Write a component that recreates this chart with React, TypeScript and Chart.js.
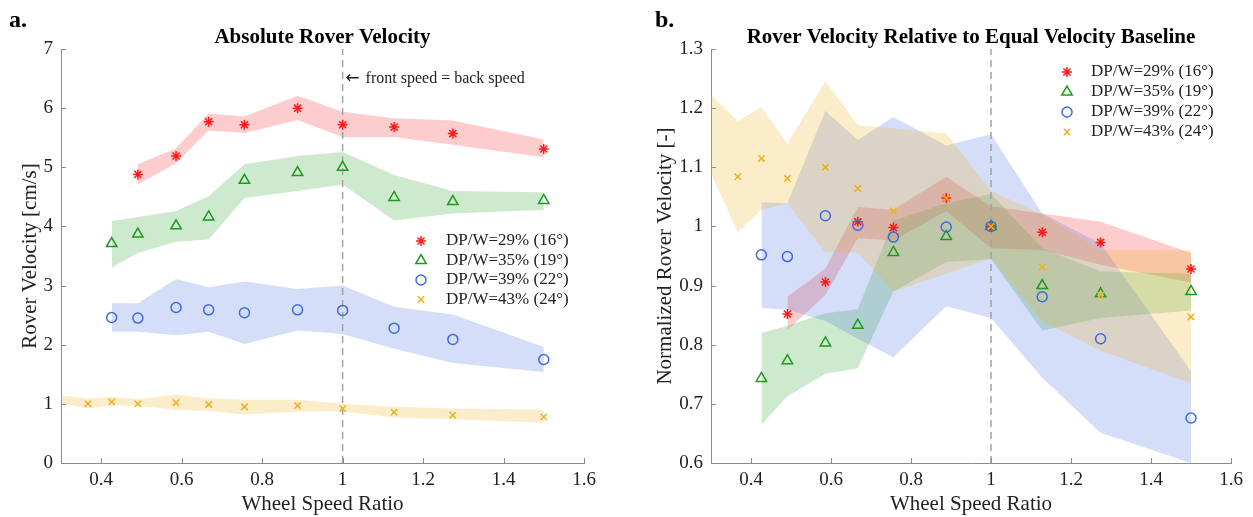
import React, { useEffect, useRef } from 'react';
import { Chart, registerables } from 'chart.js';
import { drawPoint } from 'chart.js/helpers';

Chart.register(...registerables);

const FONT = '"Liberation Serif", "Times New Roman", Times, serif';

// ---------- shared data ----------
const xRatio = [0.367, 0.426, 0.491, 0.586, 0.667, 0.756, 0.888, 1.0, 1.128, 1.274, 1.5];
const bandXFull = [0.3, 0.367, 0.426, 0.491, 0.586, 0.667, 0.756, 0.888, 1.0, 1.128, 1.274, 1.5];

const seriesLabels = ['DP/W=29% (16°)', 'DP/W=35% (19°)', 'DP/W=39% (22°)', 'DP/W=43% (24°)'];

const xTickValues = [0.4, 0.6, 0.8, 1.0, 1.2, 1.4, 1.6];
const xTickLabels = ['0.4', '0.6', '0.8', '1', '1.2', '1.4', '1.6'];
const absYTickValues = [0, 1, 2, 3, 4, 5, 6, 7];
const absYTickLabels = ['0', '1', '2', '3', '4', '5', '6', '7'];
const relYTickValues = [0.6, 0.7, 0.8, 0.9, 1.0, 1.1, 1.2, 1.3];
const relYTickLabels = ['0.6', '0.7', '0.8', '0.9', '1', '1.1', '1.2', '1.3'];

// ---------- panel a: absolute velocity [cm/s] ----------
const absRed = [null, null, 4.88, 5.19, 5.77, 5.72, 6.0, 5.72, 5.68, 5.57, 5.31];
const absRedHi = [null, null, 5.05, 5.32, 5.91, 5.86, 6.21, 5.94, 5.83, 5.79, 5.47];
const absRedLo = [null, null, 4.71, 5.07, 5.62, 5.58, 5.8, 5.51, 5.51, 5.38, 5.17];

const absGreen = [null, 3.71, 3.87, 4.01, 4.16, 4.78, 4.91, 5.0, 4.49, 4.42, 4.44];
const absGreenHi = [null, 4.09, 4.16, 4.26, 4.51, 5.05, 5.19, 5.26, 4.87, 4.6, 4.58];
const absGreenLo = [null, 3.3, 3.55, 3.74, 3.78, 4.48, 4.6, 4.71, 4.1, 4.22, 4.28];

const absBlue = [null, 2.46, 2.45, 2.63, 2.59, 2.54, 2.59, 2.58, 2.28, 2.09, 1.75];
const absBlueHi = [null, 2.7, 2.7, 3.11, 2.97, 3.07, 2.94, 3.0, 2.64, 2.51, 1.96];
const absBlueLo = [null, 2.22, 2.22, 2.16, 2.22, 2.01, 2.24, 2.18, 1.93, 1.69, 1.54];

const absYellow = [1.0, 1.03, 1.0, 1.02, 0.99, 0.95, 0.97, 0.92, 0.86, 0.81, 0.78];
const absYellowHi = [1.14, 1.09, 1.12, 1.08, 1.16, 1.09, 1.07, 1.07, 1.0, 0.95, 0.92, 0.9];
const absYellowLo = [1.01, 0.92, 0.98, 0.97, 0.9, 0.88, 0.82, 0.87, 0.87, 0.77, 0.74, 0.68];

// ---------- panel b: normalized velocity [-] ----------
const relRed = [null, null, 0.852, 0.906, 1.008, 0.998, 1.048, 1.0, 0.99, 0.973, 0.928];
const relRedHi = [null, null, 0.881, 0.929, 1.033, 1.028, 1.084, 1.034, 1.022, 1.008, 0.955];
const relRedLo = [null, null, 0.825, 0.884, 0.98, 0.976, 1.026, 0.963, 0.96, 0.935, 0.905];

const relGreen = [null, 0.743, 0.773, 0.803, 0.833, 0.956, 0.983, 1.0, 0.9, 0.886, 0.89];
const relGreenHi = [null, 0.82, 0.832, 0.853, 0.86, 1.01, 1.039, 1.055, 0.963, 0.924, 0.92];
const relGreenLo = [null, 0.665, 0.713, 0.751, 0.76, 0.89, 0.94, 0.945, 0.824, 0.845, 0.858];

const relBlue = [null, 0.952, 0.949, 1.018, 1.002, 0.982, 0.999, 1.0, 0.881, 0.81, 0.676];
const relBlueHi = [null, 1.041, 1.039, 1.195, 1.146, 1.185, 1.137, 1.156, 1.022, 0.971, 0.755];
const relBlueLo = [null, 0.862, 0.859, 0.84, 0.81, 0.779, 0.865, 0.845, 0.744, 0.651, 0.6];

const relYellow = [1.084, 1.115, 1.081, 1.1, 1.064, 1.026, 1.048, 1.0, 0.931, 0.884, 0.847];
const relYellowHi = [1.222, 1.178, 1.202, 1.14, 1.246, 1.171, 1.166, 1.157, 1.06, 1.02, 0.96, 0.96];
const relYellowLo = [1.09, 0.99, 1.028, 1.039, 0.956, 0.956, 0.89, 0.92, 0.946, 0.84, 0.79, 0.735];

// ---------- styles ----------
const markerColors = ['#ff1a1a', '#1f9a1f', '#3f6ae0', '#eeb020'];
const bandColors = [
  'rgba(245,20,20,0.21)',
  'rgba(30,160,30,0.22)',
  'rgba(65,105,225,0.22)',
  'rgba(237,177,32,0.24)',
];
const pointStyles = ['star', 'triangle', 'circle', 'crossRot'];
const pointRadii = [5, 6, 5, 4.5];
const AXIS_COLOR = '#8c8c8c';
const TEXT_COLOR = '#222222';

function pts(xs: number[], ys: (number | null)[]) {
  const out: { x: number; y: number }[] = [];
  ys.forEach((y, i) => {
    if (y !== null && y !== undefined) out.push({ x: xs[i], y });
  });
  return out;
}

function buildDatasets(
  values: (number | null)[][],
  hi: (number | null)[][],
  lo: (number | null)[][],
  bandXs: number[][],
  yMin: number,
  yMax: number
) {
  const ds: any[] = [];
  for (let i = 0; i < 4; i++) {
    ds.push({
      type: 'line',
      label: seriesLabels[i],
      data: pts(xRatio, values[i]),
      showLine: false,
      pointStyle: pointStyles[i],
      pointRadius: pointRadii[i],
      pointBorderColor: markerColors[i],
      pointBackgroundColor: 'rgba(0,0,0,0)',
      pointBorderWidth: 1.5,
      order: 3 - i,
    });
  }
  ds.push({
    type: 'line',
    label: 'equal',
    data: [
      { x: 1, y: yMin },
      { x: 1, y: yMax },
    ],
    borderColor: '#a3a3a3',
    borderDash: [7, 5],
    borderWidth: 1.5,
    pointRadius: 0,
    fill: false,
    order: 5,
  });
  for (let i = 0; i < 4; i++) {
    ds.push({
      type: 'line',
      label: 'band-hi-' + i,
      data: pts(bandXs[i], hi[i]),
      borderColor: 'rgba(0,0,0,0)',
      borderWidth: 0,
      backgroundColor: bandColors[i],
      pointRadius: 0,
      tension: 0,
      fill: '+1',
      order: 20 - i * 2,
    });
    ds.push({
      type: 'line',
      label: 'band-lo-' + i,
      data: pts(bandXs[i], lo[i]),
      borderColor: 'rgba(0,0,0,0)',
      borderWidth: 0,
      pointRadius: 0,
      tension: 0,
      fill: false,
      order: 20 - i * 2,
    });
  }
  return ds;
}

const decoPlugin = {
  id: 'deco',
  afterDraw(chart: any, _args: any, opts: any) {
    const ctx = chart.ctx as CanvasRenderingContext2D;
    const area = chart.chartArea;
    const xs = chart.scales.x;
    const ys = chart.scales.y;
    ctx.save();

    // inward tick marks
    ctx.strokeStyle = AXIS_COLOR;
    ctx.lineWidth = 1;
    ctx.beginPath();
    xs.ticks.forEach((t: any) => {
      const px = Math.round(xs.getPixelForValue(t.value)) + 0.5;
      ctx.moveTo(px, area.bottom);
      ctx.lineTo(px, area.bottom - 5);
    });
    ys.ticks.forEach((t: any) => {
      const py = Math.round(ys.getPixelForValue(t.value)) + 0.5;
      ctx.moveTo(area.left, py);
      ctx.lineTo(area.left + 5, py);
    });
    ctx.stroke();

    // panel letter
    ctx.fillStyle = '#000';
    ctx.textAlign = 'left';
    ctx.textBaseline = 'alphabetic';
    ctx.font = `bold 24px ${FONT}`;
    ctx.fillText(opts.letter, opts.letterX, 27);

    // title
    ctx.font = `bold 21px ${FONT}`;
    ctx.textAlign = 'center';
    ctx.fillText(opts.title, (area.left + area.right) / 2, 43);

    // annotation
    if (opts.noteArrow) {
      const x0 = xs.getPixelForValue(1) + 3;
      ctx.textAlign = 'left';
      ctx.textBaseline = 'middle';
      ctx.fillStyle = TEXT_COLOR;
      ctx.font = `17px "DejaVu Sans", sans-serif`;
      ctx.fillText(opts.noteArrow, x0, 79);
      ctx.font = `16px ${FONT}`;
      ctx.fillText(opts.noteText, x0 + 20, 79);
    }

    // legend
    ctx.font = `17px ${FONT}`;
    ctx.textBaseline = 'middle';
    ctx.textAlign = 'left';
    for (let i = 0; i < 4; i++) {
      const y = opts.legendY0 + i * opts.legendDY;
      ctx.save();
      ctx.strokeStyle = markerColors[i];
      ctx.fillStyle = 'rgba(0,0,0,0)';
      ctx.lineWidth = 1.5;
      drawPoint(ctx, { pointStyle: pointStyles[i], radius: pointRadii[i], borderWidth: 1.5, rotation: 0 } as any, opts.legendMarkerX, y);
      ctx.restore();
      ctx.fillStyle = TEXT_COLOR;
      ctx.fillText(seriesLabels[i], opts.legendTextX, y);
    }
    ctx.restore();
  },
};

function makeConfig(p: {
  datasets: any[];
  yMin: number;
  yMax: number;
  yTicks: number[];
  yLabels: string[];
  yTitle: string;
  yWidth: number;
  yTitlePad: number;
  padRight: number;
  deco: any;
}) {
  return {
    type: 'line',
    data: { datasets: p.datasets },
    plugins: [decoPlugin],
    options: {
      responsive: false,
      devicePixelRatio: 1,
      animation: false,
      events: [],
      layout: { padding: { left: 0, right: p.padRight, top: 49, bottom: 0 } },
      plugins: {
        legend: { display: false },
        tooltip: { enabled: false },
        title: { display: false },
        deco: p.deco,
      },
      scales: {
        x: {
          type: 'linear',
          min: 0.3,
          max: 1.6,
          afterBuildTicks: (s: any) => {
            s.ticks = xTickValues.map((v) => ({ value: v }));
          },
          afterFit: (s: any) => {
            s.height = 54;
          },
          ticks: {
            callback: (_v: any, i: number) => xTickLabels[i],
            font: { family: FONT, size: 19 },
            color: TEXT_COLOR,
            padding: 6,
            maxRotation: 0,
            autoSkip: false,
          },
          grid: { display: false, drawTicks: false },
          border: { display: true, color: AXIS_COLOR, width: 1 },
          title: {
            display: true,
            text: 'Wheel Speed Ratio',
            font: { family: FONT, size: 21 },
            color: TEXT_COLOR,
            padding: { top: 0, bottom: 0 },
          },
        },
        y: {
          type: 'linear',
          min: p.yMin,
          max: p.yMax,
          afterBuildTicks: (s: any) => {
            s.ticks = p.yTicks.map((v) => ({ value: v }));
          },
          afterFit: (s: any) => {
            s.width = p.yWidth;
          },
          ticks: {
            callback: (_v: any, i: number) => p.yLabels[i],
            font: { family: FONT, size: 19 },
            color: TEXT_COLOR,
            padding: 8,
            autoSkip: false,
          },
          grid: { display: false, drawTicks: false },
          border: { display: true, color: AXIS_COLOR, width: 1 },
          title: {
            display: true,
            text: p.yTitle,
            font: { family: FONT, size: 21 },
            color: TEXT_COLOR,
            padding: { top: p.yTitlePad, bottom: 0 },
          },
        },
      },
    },
  };
}

function ChartCanvas({ config, width, height }: { config: () => any; width: number; height: number }) {
  const ref = useRef<HTMLCanvasElement | null>(null);
  useEffect(() => {
    if (!ref.current) return;
    const chart = new Chart(ref.current, config());
    return () => chart.destroy();
  }, []);
  return <canvas ref={ref} width={width} height={height} style={{ display: 'block', width, height }} />;
}

export default function App() {
  const leftConfig = () =>
    makeConfig({
      datasets: buildDatasets(
        [absRed, absGreen, absBlue, absYellow],
        [absRedHi, absGreenHi, absBlueHi, absYellowHi],
        [absRedLo, absGreenLo, absBlueLo, absYellowLo],
        [xRatio, xRatio, xRatio, bandXFull],
        0,
        7
      ),
      yMin: 0,
      yMax: 7,
      yTicks: absYTickValues,
      yLabels: absYTickLabels,
      yTitle: 'Rover Velocity [cm/s]',
      yWidth: 61,
      yTitlePad: 18,
      padRight: 42,
      deco: {
        letter: 'a.',
        letterX: 9,
        title: 'Absolute Rover Velocity',
        noteArrow: '\u2190',
        noteText: 'front speed = back speed',
        legendMarkerX: 421,
        legendTextX: 446,
        legendY0: 241,
        legendDY: 19.5,
      },
    });
  const rightConfig = () =>
    makeConfig({
      datasets: buildDatasets(
        [relRed, relGreen, relBlue, relYellow],
        [relRedHi, relGreenHi, relBlueHi, relYellowHi],
        [relRedLo, relGreenLo, relBlueLo, relYellowLo],
        [xRatio, xRatio, xRatio, bandXFull],
        0.6,
        1.3
      ),
      yMin: 0.6,
      yMax: 1.3,
      yTicks: relYTickValues,
      yLabels: relYTickLabels,
      yTitle: 'Normalized Rover Velocity [-]',
      yWidth: 85,
      yTitlePad: 27,
      padRight: 22,
      deco: {
        letter: 'b.',
        letterX: 29,
        title: 'Rover Velocity Relative to Equal Velocity Baseline',
        noteArrow: null,
        noteText: null,
        legendMarkerX: 441,
        legendTextX: 465,
        legendY0: 72,
        legendDY: 20,
      },
    });
  return (
    <div style={{ position: 'absolute', left: 0, top: 0, width: 1253, height: 517, display: 'flex', background: '#fff' }}>
      <ChartCanvas config={leftConfig} width={626} height={517} />
      <ChartCanvas config={rightConfig} width={627} height={517} />
    </div>
  );
}
